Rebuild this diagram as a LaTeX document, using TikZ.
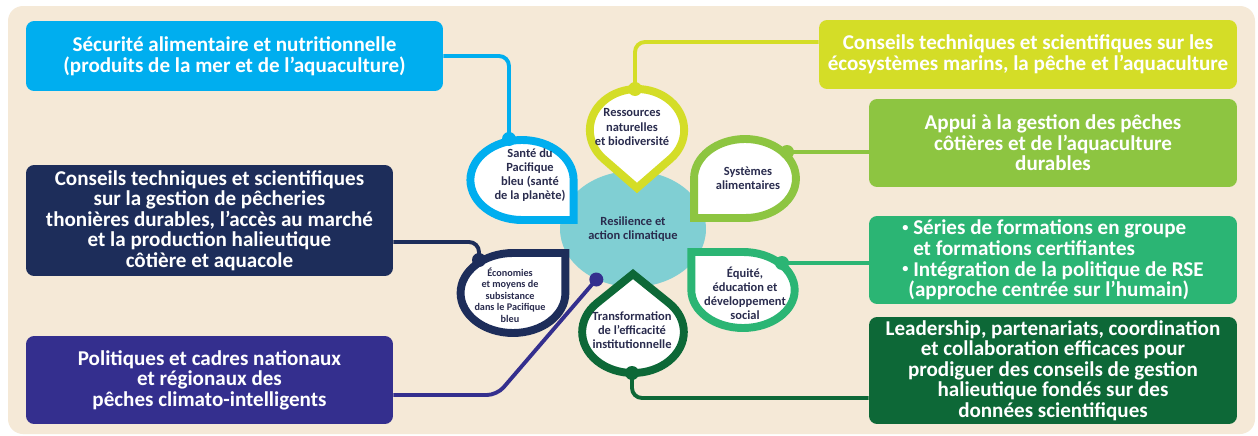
\documentclass[tikz,border=0pt]{standalone}
\usepackage{fontspec}
\setmainfont{Carlito}
\usetikzlibrary{shapes.geometric}

\definecolor{bg}{HTML}{F5E9D7}
\definecolor{ink}{HTML}{2A2C4E}
\definecolor{secu}{HTML}{00AEEF}
\definecolor{thon}{HTML}{1D2D5A}
\definecolor{poli}{HTML}{342F8E}
\definecolor{ecos}{HTML}{D4DD27}
\definecolor{appui}{HTML}{8DC541}
\definecolor{form}{HTML}{2BB574}
\definecolor{lead}{HTML}{0D6837}
\definecolor{resil}{HTML}{80CFD3}

% position, corner angle, radius, xscale, colour
\newcommand{\petal}[5]{%
  \draw[petal,draw=#5,shift={#1},xscale=#4]
    ({#2+45}:#3) arc[start angle={#2+45},end angle={#2+315},radius=#3]
    -- ({#2}:{#3*sqrt(2)}) -- cycle;}
\newcommand{\blt}{\raisebox{0.3ex}{\fontsize{7}{7}\selectfont\textbullet}}

\begin{document}
\begin{tikzpicture}[x=0.02cm,y=0.02cm,
  box/.style={rectangle,rounded corners=0.16cm,text=white,align=center,
    font=\bfseries\fontsize{12}{11.7}\selectfont,inner sep=0pt},
  petal/.style={fill=white,line width=4.5pt},
  petal text/.style={align=center,text=ink,
    font=\bfseries\fontsize{7.1}{8}\selectfont},
  link/.style={line width=2.2pt,rounded corners=0.2cm}]

  \useasboundingbox (0,0) rectangle (1258,-436);
  \fill[white] (0,0) rectangle (1258,-436);
  \fill[bg,rounded corners=0.3cm] (8,-6) rectangle (1255,-434);

  \node[box,fill=secu,minimum width=8.34cm,minimum height=1.4cm] (SECU) at (234.5,-56)
    {Sécurité alimentaire et nutritionnelle\\(produits de la mer et de l’aquaculture)};
  \node[box,fill=thon,minimum width=7.34cm,minimum height=2.22cm] (THON) at (209.5,-220.5)
    {Conseils techniques et scientifiques\\sur la gestion de pêcheries\\thonières durables, l’accès au marché\\et la production halieutique\\côtière et aquacole};
  \node[box,fill=poli,minimum width=7.34cm,minimum height=1.76cm] (POLI) at (209.5,-380)
    {Politiques et cadres nationaux\\et régionaux des\\pêches climato-intelligents};
  \node[box,fill=ecos,minimum width=8.36cm,minimum height=1.38cm] (ECOS) at (1028,-54.5)
    {Conseils techniques et scientifiques sur les\\écosystèmes marins, la pêche et l’aquaculture};
  \node[box,fill=appui,minimum width=7.36cm,minimum height=1.76cm] (APPUI) at (1053,-143)
    {Appui à la gestion des pêches\\côtières et de l’aquaculture\\durables};
  \node[box,fill=form,minimum width=7.36cm,minimum height=1.76cm,align=left] (FORM) at (1053,-260)
    {\blt\ Séries de formations en groupe\\\hphantom{\blt\ }et formations certifiantes\\\blt\ Intégration de la politique de RSE\\\hphantom{\blt}(approche centrée sur l’humain)};
  \node[box,fill=lead,minimum width=7.36cm,minimum height=2.14cm] (LEAD) at (1053,-370.5)
    {Leadership, partenariats, coordination\\et collaboration efficaces pour\\prodiguer des conseils de gestion\\halieutique fondés sur des\\données scientifiques};

  \node[ellipse,fill=resil,minimum width=2.92cm,minimum height=2.32cm,petal text] (RESIL) at (633,-229)
    {Resilience et\\action climatique};

  \coordinate (SANTEDOT) at (509,-139);
  \coordinate (RESSDOT) at (635,-89);
  \coordinate (SYSTDOT) at (787,-152);
  \coordinate (EQUIDOT) at (782,-263);
  \coordinate (TRANSDOT) at (632,-373);
  \coordinate (ECONDOT) at (479,-260);
  \coordinate (POLIDOT) at (RESIL.-126);
  \coordinate (POLIBEND) at (497,-395);

  \draw[link,secu] (SANTEDOT) |- (SECU.east);
  \draw[link,ecos] (RESSDOT) |- ([yshift=0.25cm]ECOS.west);
  \draw[link,appui] (SYSTDOT) -- (SYSTDOT -| APPUI.west);
  \draw[link,form] (EQUIDOT) -- (EQUIDOT -| FORM.west);
  \draw[link,lead] (TRANSDOT) |- ([yshift=-0.55cm]LEAD.west);
  \draw[link,thon] (ECONDOT) |- ([yshift=-0.43cm]THON.east);
  \draw[link,poli] (POLIDOT) -- (POLIBEND) -- ([yshift=-0.3cm]POLI.east);

  \petal{(522,-180)}{-45}{40}{1.29}{secu}
  \petal{(637,-130)}{-90}{41}{1.15}{ecos}
  \petal{(745,-178.5)}{-135}{39.5}{1.29}{appui}
  \petal{(743,-290)}{135}{38}{1.36}{form}
  \petal{(633,-332)}{90}{41}{1.24}{lead}
  \petal{(513,-293)}{45}{40}{1.31}{thon}

  \fill[secu] (SANTEDOT) circle (7);
  \fill[ecos] (RESSDOT) circle (7);
  \fill[appui] (SYSTDOT) circle (7);
  \fill[form] (EQUIDOT) circle (7);
  \fill[lead] (TRANSDOT) circle (7);
  \fill[thon] (ECONDOT) circle (7);
  \fill[poli] (POLIDOT) circle (7);

  \node[petal text] (SANTE) at (530,-175) {Santé du\\Pacifique\\bleu (santé\\de la planète)};
  \node[petal text] (RESS) at (632,-127) {Ressources\\naturelles\\et biodiversité};
  \node[petal text] (SYST) at (748,-178) {Systèmes\\alimentaires};
  \node[petal text] (EQUI) at (745,-293) {Équité,\\éducation et\\développement\\social};
  \node[petal text] (TRANS) at (632,-330) {Transformation\\de l’efficacité\\institutionnelle};
  \node[petal text,font=\bfseries\fontsize{5.8}{6.6}\selectfont] (ECON) at (510,-295)
    {Économies\\et moyens de\\subsistance\\dans le Pacifique\\bleu};
\end{tikzpicture}
\end{document}
